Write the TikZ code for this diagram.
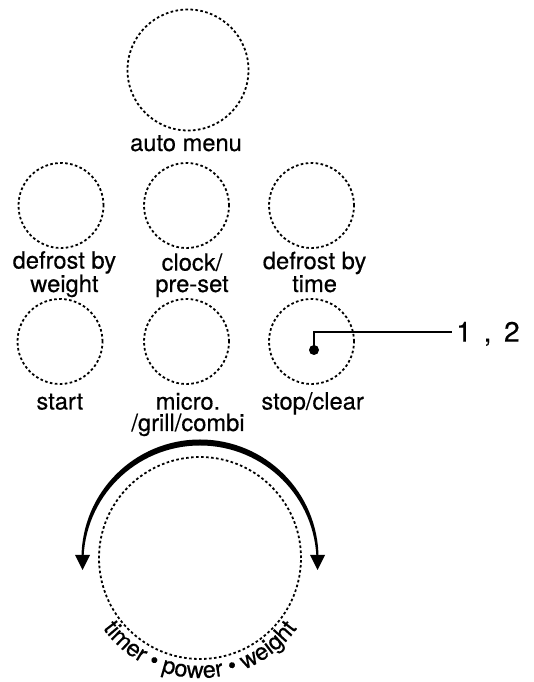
\documentclass[tikz,border=0pt]{standalone}
\usepackage{fontspec}
\setmainfont{TeX Gyre Heros}[FakeBold=0.35]
\usetikzlibrary{decorations.text}

\begin{document}
\begin{tikzpicture}[x=1pt,y=1pt,
    btn/.style={circle,draw,line width=1.8pt,dash pattern=on 2.6pt off 2.4pt,inner sep=0,minimum size=#1},
    lbl/.style={align=center,inner sep=0,anchor=base,font=\fontsize{23.7}{21.4}\selectfont}]
  \useasboundingbox (0,0) rectangle (534,682);
  % buttons
  \node[btn=121] (auto) at (188,612) {};
  \node[lbl] (autolbl) at (186,531) {auto menu};
  \node[btn=85] (dweight) at (61,476.5) {};
  \node[btn=85] (clock) at (186.5,476.5) {};
  \node[btn=85] (dtime) at (311.5,476.5) {};
  \node[lbl] (dweightlbl) at (64.4,390) {defrost by\\weight};
  \node[lbl] (clocklbl) at (192,390) {clock/\\pre-set};
  \node[lbl] (dtimelbl) at (314.6,390) {defrost by\\time};
  \node[btn=85] (start) at (60,340.5) {};
  \node[btn=85] (micro) at (186.5,340.5) {};
  \node[btn=85] (stop) at (311.5,340.5) {};
  \node[lbl] (startlbl) at (59.8,272.5) {start};
  \node[lbl] (microlbl) at (188,251) {micro.\\/grill/combi};
  \node[lbl] (stoplbl) at (312.6,272.5) {stop/clear};
  % callout
  \coordinate (spot) at (314,332);
  \fill (spot) circle (5);
  \node[anchor=base west,inner sep=0,font=\fontsize{28}{28}\selectfont] (num) at (456,340.3)
    {1\hspace{12pt},\hspace{12.5pt}2};
  \coordinate (numend) at (452,350.3);
  \draw[line width=2pt] (spot) |- (numend);
  % dial
  \node[btn=202] (dial) at (200,124) {};
  \fill ([shift={(180:118.5)}]dial.center) arc (180:0:118.5)
    -- ([shift={(116.5,-4)}]dial.center) arc (0:180:116.5) -- cycle;
  \fill (75,127) -- (90,127) -- (82.5,112) -- cycle;
  \fill (310,127) -- (325,127) -- (317.5,112) -- cycle;
  \path[decorate,decoration={text along path,text align=center,
      text={|\fontsize{23.5}{23.5}\selectfont|timer • power • weight}}]
    ([shift={(205:120)}]dial.center) arc (205:335:120);
\end{tikzpicture}
\end{document}
